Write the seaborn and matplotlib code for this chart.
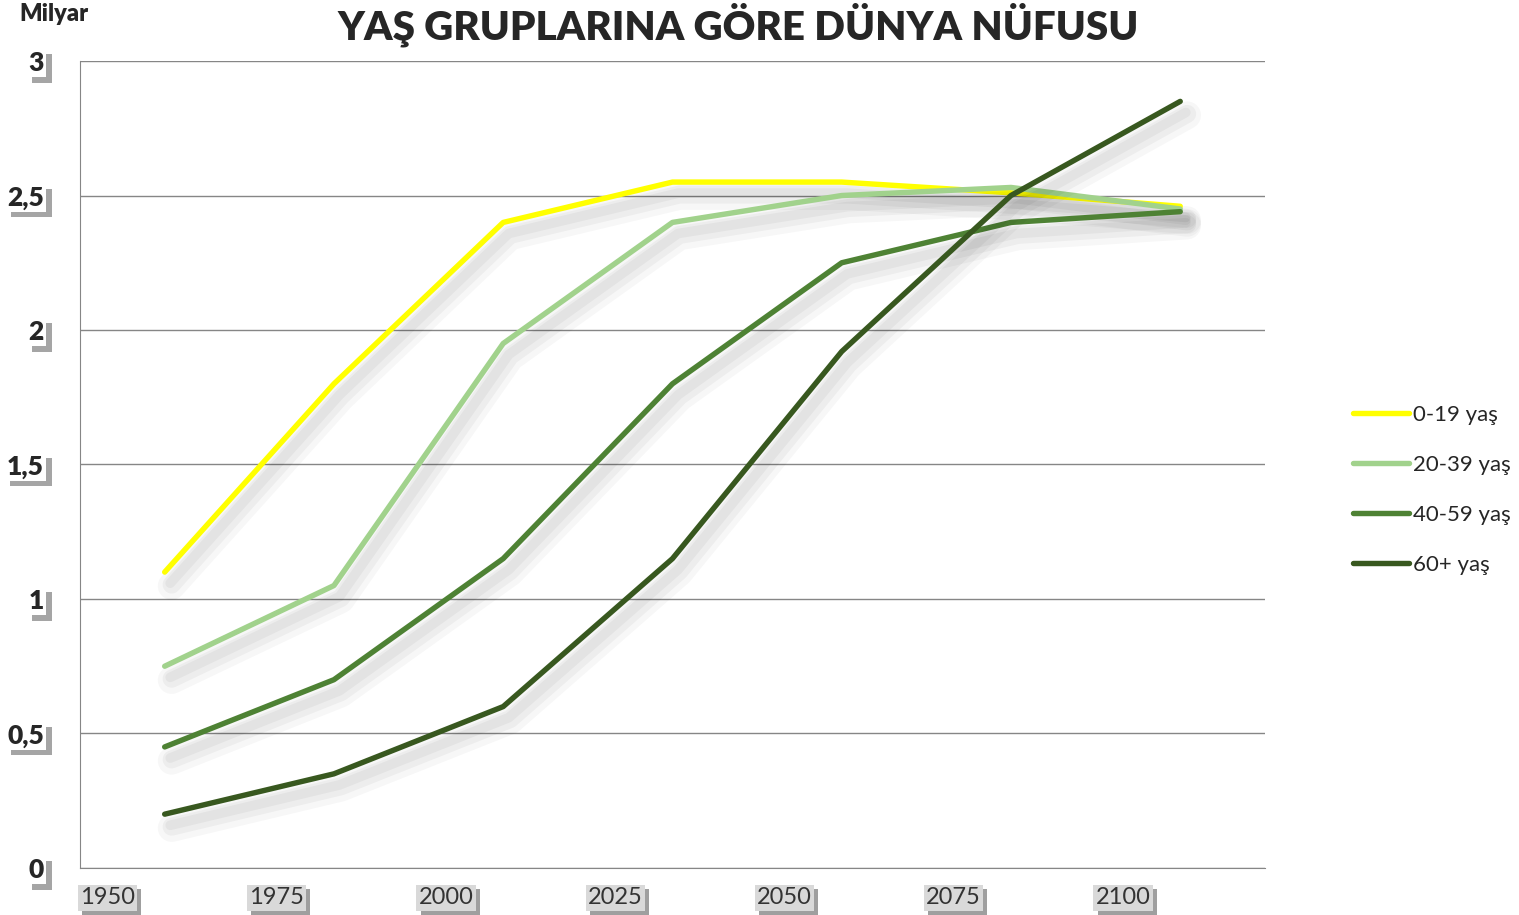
import pandas as pd
import numpy as np
import matplotlib
matplotlib.use("Agg")
import matplotlib.pyplot as plt
import matplotlib.patheffects as pe
import seaborn as sns

# chart data (billions)
years = [1962.5, 1987.5, 2012.5, 2037.5, 2062.5, 2087.5, 2112.5]
age_0_19 = [1.10, 1.80, 2.40, 2.55, 2.55, 2.51, 2.46]
age_20_39 = [0.75, 1.05, 1.95, 2.40, 2.50, 2.53, 2.45]
age_40_59 = [0.45, 0.70, 1.15, 1.80, 2.25, 2.40, 2.44]
age_60_plus = [0.20, 0.35, 0.60, 1.15, 1.92, 2.50, 2.85]
groups = ["0-19 yaş", "20-39 yaş", "40-59 yaş", "60+ yaş"]
colors = ["#FFFF00", "#A1D28C", "#4E8234", "#38581F"]
year_labels = ["1950", "1975", "2000", "2025", "2050", "2075", "2100"]
y_labels = ["0", "0,5", "1", "1,5", "2", "2,5", "3"]

df = pd.DataFrame({"yil": years * 4,
                   "nufus": age_0_19 + age_20_39 + age_40_59 + age_60_plus,
                   "grup": np.repeat(groups, len(years))})

sns.set_style("white")
plt.rcParams["font.family"] = ["Lato", "DejaVu Sans"]

fig = plt.figure(figsize=(15.19, 9.15), dpi=100)
ax = fig.add_axes([0.0527, 0.0514, 0.78, 0.8819])

# soft drop shadow under the lines
shadow = [pe.SimpleLineShadow(offset=(5, -10), shadow_color="black", alpha=0.03, linewidth=20),
          pe.SimpleLineShadow(offset=(5, -9), shadow_color="black", alpha=0.04, linewidth=13),
          pe.SimpleLineShadow(offset=(4, -8), shadow_color="black", alpha=0.04, linewidth=7),
          pe.Normal()]
sns.lineplot(data=df, x="yil", y="nufus", hue="grup", palette=colors, linewidth=3.9,
             ax=ax, legend=True, solid_capstyle="round")
for line in ax.lines:
    line.set_path_effects(shadow)

ax.set_xlim(1950, 2125)
ax.set_ylim(0, 3)
ax.set_yticks(np.arange(0, 3.01, 0.5))
ax.set_yticklabels(y_labels, fontsize=19, fontweight="heavy")
ax.set_xticks(np.arange(1950, 2101, 25))
ax.set_xticklabels(year_labels, fontsize=17, color="#333333", ha="left")
ax.set_xticks(np.arange(1962.5, 2125.1, 25), minor=True)
ax.grid(axis="y", color="#868686", linewidth=1)
ax.set_axisbelow(True)
for s in ["top", "right"]:
    ax.spines[s].set_visible(False)
ax.spines["left"].set_color("#868686")
ax.spines["bottom"].set_color("#868686")
ax.tick_params(axis="y", length=8, direction="out", color="#868686", pad=18)
ax.tick_params(axis="x", which="major", length=8, direction="out", color="#868686", pad=6)
ax.tick_params(axis="x", which="minor", length=12, direction="inout", color="#868686")
for t in ax.get_xticklabels():
    t.set_bbox(dict(facecolor="#D9D9D9", edgecolor="none", pad=1.5))
    t.get_bbox_patch().set_path_effects([pe.withSimplePatchShadow(offset=(3, -3), alpha=0.5)])
for t in ax.get_yticklabels():
    t.set_bbox(dict(facecolor="white", edgecolor="none", pad=1.5))
    t.get_bbox_patch().set_path_effects([pe.withSimplePatchShadow(offset=(4, -4), alpha=0.5)])
ax.set_xlabel("")
ax.set_ylabel("")

leg = ax.legend(loc="center left", bbox_to_anchor=(1353 / 1519, 1 - 490 / 915),
                bbox_transform=fig.transFigure, borderaxespad=0, borderpad=0,
                frameon=False, fontsize=16, handlelength=2.5, handletextpad=0.2,
                labelspacing=1.35)
for h in leg.get_lines():
    h.set_linewidth(3.9)
    h.set_path_effects([])

fig.text(0.486, 0.973, "YAŞ GRUPLARINA GÖRE DÜNYA NÜFUSU", ha="center", va="center",
         fontsize=29, fontweight="heavy")
fig.text(0.013, 0.985, "Milyar", ha="left", va="center", fontsize=17, fontweight="heavy")

fig.savefig("out.png", dpi=100)
